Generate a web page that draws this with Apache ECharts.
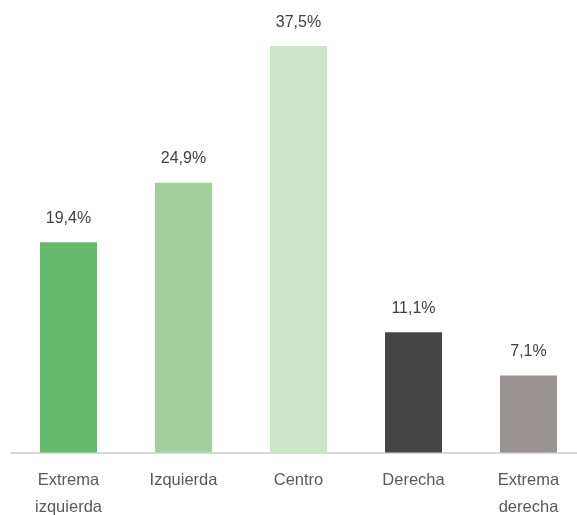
<!DOCTYPE html>
<html>
<head>
<meta charset="utf-8">
<style>
  html, body { margin: 0; padding: 0; background: #ffffff; }
  #chart { width: 577px; height: 515px; }
</style>
<script src="https://cdn.jsdelivr.net/npm/echarts@6/dist/echarts.min.js"></script>
</head>
<body>
<div id="chart"></div>
<script>
// Autoubicación ideológica (% de encuestados)
const categories = ['Extrema\nizquierda', 'Izquierda', 'Centro', 'Derecha', 'Extrema\nderecha'];
const values = [19.4, 24.9, 37.5, 11.1, 7.1];
const barColors = ['#66b96a', '#a2d09a', '#cde6c9', '#444444', '#999391'];

const chart = echarts.init(document.getElementById('chart'), null, { renderer: 'canvas' });

chart.setOption({
  animation: false,
  textStyle: { fontFamily: 'Liberation Sans' },
  // the last category runs past the right edge of the canvas
  grid: { left: 11, right: -9, top: 19, bottom: 62.5, outerBoundsMode: 'none', containLabel: false },
  xAxis: {
    type: 'category',
    data: categories,
    axisLine: { show: true, lineStyle: { color: '#d9d9d9', width: 2 } },
    axisTick: { show: false },
    axisLabel: {
      interval: 0,
      color: '#595959',
      fontSize: 16.5,
      lineHeight: 27,
      margin: 14
    }
  },
  yAxis: {
    type: 'value',
    min: 0,
    max: 40,
    show: false,
    splitLine: { show: false }
  },
  series: [{
    type: 'bar',
    barWidth: 57,
    data: values.map((v, i) => ({ value: v, itemStyle: { color: barColors[i] } })),
    label: {
      show: true,
      position: 'top',
      distance: 16,
      color: '#404040',
      fontSize: 16,
      formatter: p => p.value.toFixed(1).replace('.', ',') + '%'
    }
  }]
});
</script>
</body>
</html>
